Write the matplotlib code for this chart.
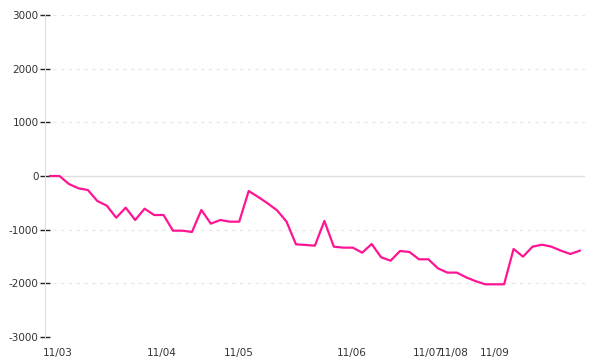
import numpy as np
import matplotlib.pyplot as plt

# values, one point per step
values = [0, 0, -149, -229, -261, -466, -553, -777, -590, -820,
          -609, -727, -727, -1019, -1019, -1043, -633, -888, -820, -851,
          -851, -280, -390, -509, -640, -850, -1273, -1285, -1298, -838,
          -1317, -1335, -1335, -1429, -1267, -1515, -1578, -1397, -1416, -1552,
          -1552, -1720, -1800, -1800, -1890, -1960, -2018, -2018, -2018, -1360,
          -1503, -1317, -1280, -1317, -1391, -1453, -1391]
date_labels = ['11/03', '11/04', '11/05', '11/06', '11/07', '11/08', '11/09']
date_pos = [0.85, 11.8, 19.9, 31.9, 39.9, 42.7, 47.0]
y_ticks = [-3000, -2000, -1000, 0, 1000, 2000, 3000]

x = np.arange(len(values))

fig = plt.figure(figsize=(6, 3.6), dpi=100)
ax = fig.add_axes([0.075, 0.0639, 0.9, 0.8944])

# grid
for yv in y_ticks:
    if yv == 0:
        ax.axhline(yv, color='#dddddd', linewidth=1, zorder=1)
    else:
        ax.axhline(yv, color='#e6e6e6', linewidth=0.8, linestyle=(0, (3, 4)), zorder=1)

ax.plot(x, values, color='#ff1493', linewidth=1.6, zorder=3)

ax.set_xlim(-0.53, 56.55)
ax.set_ylim(-3000, 3000)
ax.set_yticks(y_ticks)
ax.set_yticklabels([str(v) for v in y_ticks])
ax.set_xticks(date_pos)
ax.set_xticklabels(date_labels)

ax.tick_params(axis='y', direction='inout', length=7, width=1, color='#222222',
               labelsize=7.5, labelcolor='#333333', pad=1)
ax.tick_params(axis='x', length=0, labelsize=7.5, labelcolor='#333333', pad=8)

for side in ['top', 'right', 'bottom']:
    ax.spines[side].set_visible(False)
ax.spines['left'].set_color('#dddddd')

fig.savefig('out.png', dpi=100)
